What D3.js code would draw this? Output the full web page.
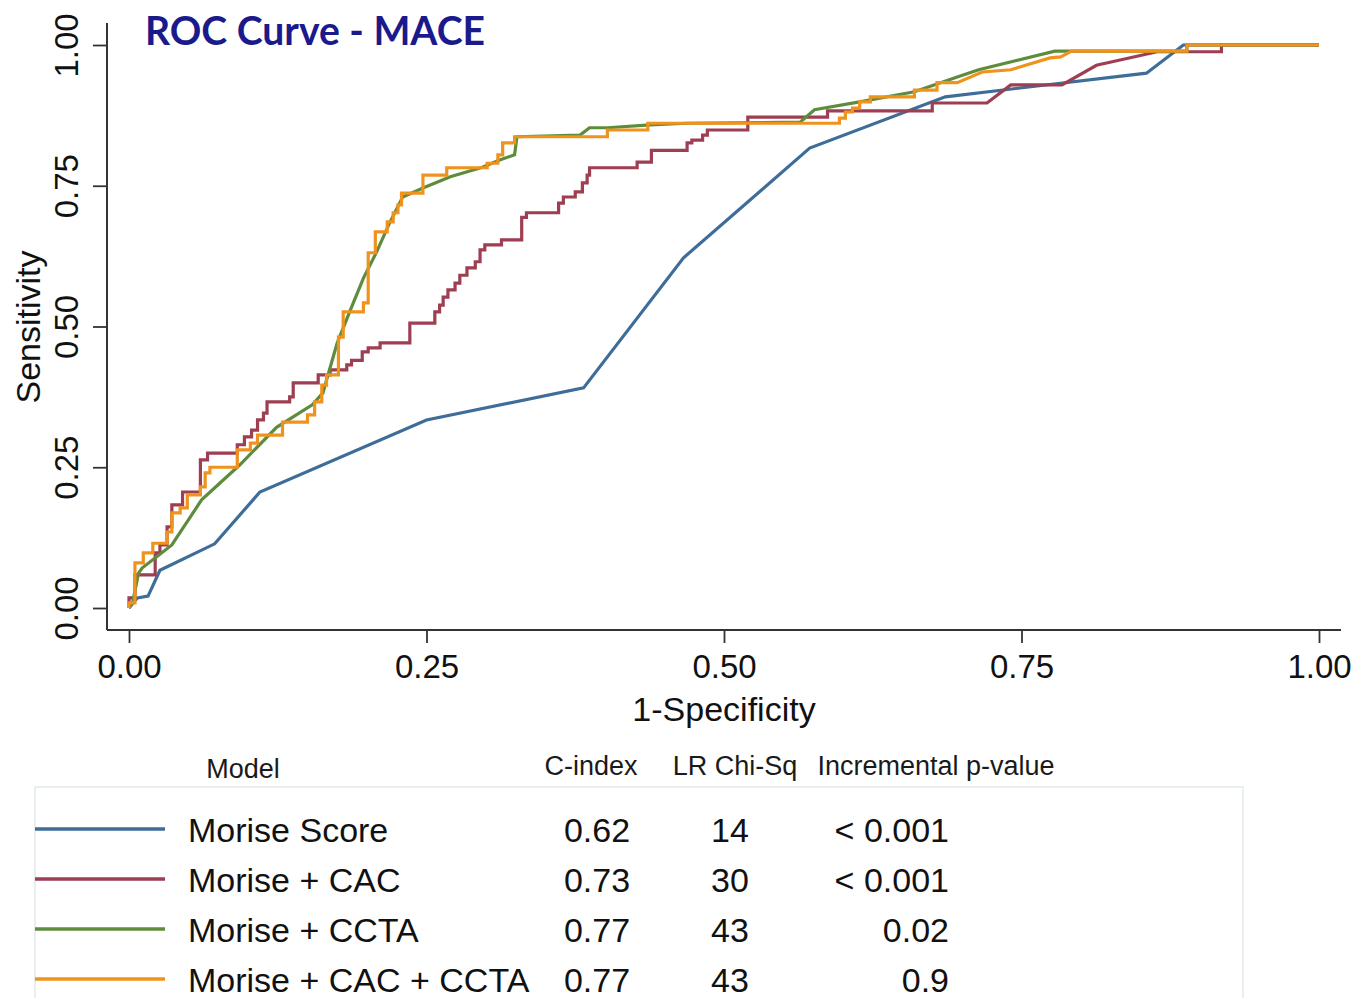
<!DOCTYPE html>
<html>
<head>
<meta charset="utf-8">
<script src="https://d3js.org/d3.v7.min.js"></script>
<style>
  html, body { margin: 0; padding: 0; background: #ffffff; }
  svg { display: block; }
  text { font-family: "Liberation Sans", Arial, Helvetica, sans-serif; fill: #111; }
</style>
</head>
<body>
<svg id="chart" width="1368" height="998"></svg>
<script>
// ---- data -------------------------------------------------------------
const modelNames = ["Morise Score", "Morise + CAC", "Morise + CCTA", "Morise + CAC + CCTA"];
const cIndex = ["0.62", "0.73", "0.77", "0.77"];
const lrChiSq = ["14", "30", "43", "43"];
const pValues = ["< 0.001", "< 0.001", "0.02", "0.9"];
const tableHeaders = ["Model", "C-index", "LR Chi-Sq", "Incremental p-value"];
const xTicks = [0, 0.25, 0.5, 0.75, 1];
const yTicks = [0, 0.25, 0.5, 0.75, 1];

// ROC points: [1-specificity, sensitivity]
const moriseScore = [
  [0, 0], [0.007, 0.018], [0.016, 0.021], [0.026, 0.067], [0.072, 0.114],
  [0.110, 0.206], [0.250, 0.334], [0.382, 0.391], [0.466, 0.622], [0.572, 0.817],
  [0.686, 0.908], [0.855, 0.950], [0.886, 1], [1, 1]
];

const moriseCac = [
  [0, 0], [0, 0.018], [0.005, 0.018], [0.005, 0.059], [0.022, 0.059], [0.022, 0.098],
  [0.026, 0.098], [0.026, 0.112], [0.032, 0.112], [0.032, 0.144], [0.036, 0.144],
  [0.036, 0.183], [0.045, 0.183], [0.045, 0.206], [0.060, 0.206], [0.060, 0.263],
  [0.066, 0.263], [0.066, 0.275], [0.091, 0.275], [0.091, 0.290], [0.097, 0.290],
  [0.097, 0.304], [0.103, 0.304], [0.103, 0.316], [0.108, 0.316], [0.108, 0.334],
  [0.113, 0.334], [0.113, 0.346], [0.116, 0.346], [0.116, 0.366], [0.135, 0.366],
  [0.135, 0.375], [0.138, 0.375], [0.138, 0.400], [0.159, 0.400], [0.159, 0.414],
  [0.169, 0.414], [0.169, 0.423], [0.183, 0.423], [0.183, 0.432], [0.187, 0.432],
  [0.187, 0.440], [0.196, 0.440], [0.196, 0.455], [0.201, 0.455], [0.201, 0.462],
  [0.211, 0.462], [0.211, 0.471], [0.236, 0.471], [0.236, 0.506], [0.257, 0.506],
  [0.257, 0.526], [0.261, 0.526], [0.261, 0.538], [0.264, 0.538], [0.264, 0.552],
  [0.268, 0.552], [0.268, 0.565], [0.274, 0.565], [0.274, 0.577], [0.278, 0.577],
  [0.278, 0.591], [0.284, 0.591], [0.284, 0.604], [0.291, 0.604], [0.291, 0.615],
  [0.295, 0.615], [0.295, 0.636], [0.299, 0.636], [0.299, 0.645], [0.313, 0.645],
  [0.313, 0.654], [0.330, 0.654], [0.330, 0.694], [0.334, 0.694], [0.334, 0.702],
  [0.361, 0.702], [0.361, 0.719], [0.365, 0.719], [0.365, 0.730], [0.375, 0.730],
  [0.375, 0.739], [0.381, 0.739], [0.381, 0.755], [0.385, 0.755], [0.385, 0.769],
  [0.387, 0.769], [0.387, 0.782], [0.427, 0.782], [0.427, 0.792], [0.439, 0.792],
  [0.439, 0.813], [0.469, 0.813], [0.469, 0.826], [0.473, 0.826], [0.473, 0.831],
  [0.482, 0.831], [0.482, 0.840], [0.486, 0.840], [0.486, 0.849], [0.520, 0.849],
  [0.520, 0.872], [0.587, 0.872], [0.587, 0.883], [0.675, 0.883], [0.675, 0.897],
  [0.721, 0.897], [0.741, 0.929], [0.784, 0.929], [0.813, 0.964], [0.864, 0.988],
  [0.918, 0.988], [0.918, 1], [1, 1]
];

const moriseCcta = [
  [0, 0], [0.003, 0.009], [0.008, 0.062], [0.011, 0.071], [0.036, 0.112],
  [0.061, 0.192], [0.093, 0.254], [0.124, 0.321], [0.154, 0.361], [0.163, 0.382],
  [0.166, 0.405], [0.175, 0.471], [0.186, 0.529], [0.197, 0.586], [0.208, 0.632],
  [0.219, 0.684], [0.230, 0.730], [0.247, 0.746], [0.270, 0.766], [0.297, 0.783],
  [0.312, 0.796], [0.324, 0.805], [0.326, 0.837], [0.379, 0.840], [0.387, 0.853],
  [0.402, 0.853], [0.438, 0.858], [0.469, 0.861], [0.564, 0.863], [0.576, 0.885],
  [0.614, 0.899], [0.660, 0.917], [0.696, 0.943], [0.714, 0.956], [0.778, 0.989],
  [0.889, 0.989], [0.889, 1], [1, 1]
];

const moriseCacCcta = [
  [0, 0], [0, 0.009], [0.005, 0.009], [0.005, 0.080], [0.012, 0.080], [0.012, 0.098],
  [0.020, 0.098], [0.020, 0.115], [0.032, 0.115], [0.032, 0.135], [0.036, 0.135],
  [0.036, 0.169], [0.043, 0.169], [0.043, 0.178], [0.049, 0.178], [0.049, 0.201],
  [0.060, 0.201], [0.060, 0.215], [0.064, 0.215], [0.064, 0.240], [0.068, 0.240],
  [0.068, 0.250], [0.091, 0.250], [0.091, 0.281], [0.102, 0.281], [0.102, 0.293],
  [0.108, 0.293], [0.108, 0.307], [0.129, 0.307], [0.129, 0.330], [0.150, 0.330],
  [0.150, 0.343], [0.156, 0.343], [0.156, 0.366], [0.162, 0.366], [0.162, 0.396],
  [0.166, 0.396], [0.166, 0.414], [0.176, 0.414], [0.176, 0.481], [0.180, 0.481],
  [0.180, 0.526], [0.197, 0.526], [0.197, 0.542], [0.201, 0.542], [0.201, 0.631],
  [0.207, 0.631], [0.207, 0.668], [0.217, 0.668], [0.217, 0.686], [0.222, 0.686],
  [0.222, 0.702], [0.226, 0.702], [0.226, 0.716], [0.229, 0.716], [0.229, 0.737],
  [0.247, 0.737], [0.247, 0.769], [0.267, 0.769], [0.267, 0.782], [0.301, 0.782],
  [0.301, 0.790], [0.310, 0.790], [0.310, 0.805], [0.314, 0.805], [0.314, 0.826],
  [0.324, 0.826], [0.324, 0.837], [0.402, 0.837], [0.402, 0.849], [0.436, 0.849],
  [0.436, 0.861], [0.597, 0.861], [0.597, 0.870], [0.602, 0.870], [0.602, 0.881],
  [0.608, 0.881], [0.608, 0.888], [0.614, 0.888], [0.614, 0.899], [0.623, 0.899],
  [0.623, 0.908], [0.660, 0.908], [0.660, 0.920], [0.679, 0.920], [0.679, 0.933],
  [0.696, 0.933], [0.717, 0.952], [0.741, 0.956], [0.774, 0.977], [0.783, 0.979],
  [0.792, 0.989], [0.889, 0.989], [0.889, 1], [1, 1]
];

const curves = [moriseScore, moriseCac, moriseCcta, moriseCacCcta];
const colors = ["#3e6d99", "#9d3e52", "#5e8c3d", "#f0931d"];

// ---- layout -----------------------------------------------------------
const svg = d3.select("#chart");
const x = d3.scaleLinear().domain([0, 1]).range([129, 1319]);
const y = d3.scaleLinear().domain([0, 1]).range([608, 45]);
const frameLeft = 107, frameBottom = 630, frameTop = 23, frameRight = 1341;

// title
svg.append("text")
  .attr("x", 145).attr("y", 45)
  .attr("textLength", 340).attr("lengthAdjust", "spacingAndGlyphs")
  .style("font-family", "Lato, 'Open Sans', sans-serif")
  .style("font-weight", 700)
  .style("font-size", "40px")
  .style("fill", "#1a1a8c")
  .text("ROC Curve - MACE");

// y axis
const yAxis = d3.axisLeft(y).tickValues(yTicks).tickFormat(d3.format(".2f"))
  .tickSize(14).tickSizeOuter(0);
const gy = svg.append("g").attr("transform", `translate(${frameLeft},0)`).call(yAxis);
gy.select(".domain").remove();
gy.selectAll(".tick line").attr("stroke", "#333").attr("stroke-width", 1.8);
gy.selectAll(".tick text")
  .attr("x", 0).attr("y", 0).attr("dy", null)
  .attr("transform", `translate(${66 - frameLeft},0) rotate(-90)`)
  .attr("text-anchor", "middle")
  .attr("dominant-baseline", "central")
  .style("font-size", "33px")
  .style("font-family", "'Liberation Sans', Arial, sans-serif")
  .style("fill", "#111");
svg.append("line")
  .attr("x1", frameLeft).attr("x2", frameLeft)
  .attr("y1", frameTop).attr("y2", frameBottom)
  .attr("stroke", "#333").attr("stroke-width", 2);

// x axis
const xAxis = d3.axisBottom(x).tickValues(xTicks).tickFormat(d3.format(".2f"))
  .tickSize(13).tickSizeOuter(0);
const gx = svg.append("g").attr("transform", `translate(0,${frameBottom})`).call(xAxis);
gx.select(".domain").remove();
gx.selectAll(".tick line").attr("stroke", "#333").attr("stroke-width", 1.8);
gx.selectAll(".tick text")
  .attr("y", 36).attr("dy", null)
  .attr("dominant-baseline", "central")
  .style("font-size", "33px")
  .style("font-family", "'Liberation Sans', Arial, sans-serif")
  .style("fill", "#111");
svg.append("line")
  .attr("x1", frameLeft).attr("x2", frameRight)
  .attr("y1", frameBottom).attr("y2", frameBottom)
  .attr("stroke", "#333").attr("stroke-width", 2);

// axis titles
svg.append("text")
  .attr("x", 724).attr("y", 709)
  .attr("text-anchor", "middle").attr("dominant-baseline", "central")
  .style("font-size", "34px")
  .text("1-Specificity");
svg.append("text")
  .attr("transform", "translate(28,327) rotate(-90)")
  .attr("text-anchor", "middle").attr("dominant-baseline", "central")
  .style("font-size", "34px")
  .text("Sensitivity");

// ROC curves
const line = d3.line().x(d => x(d[0])).y(d => y(d[1]));
svg.append("g").selectAll("path")
  .data(curves)
  .join("path")
  .attr("d", line)
  .attr("fill", "none")
  .attr("stroke", (d, i) => colors[i])
  .attr("stroke-width", 3.2)
  .attr("stroke-linejoin", "miter")
  .attr("stroke-linecap", "butt");

// ---- legend table -------------------------------------------------------
const headerX = [243, 591, 735, 936];
const headerY = [778, 775, 775, 775];
svg.append("g").selectAll("text")
  .data(tableHeaders)
  .join("text")
  .attr("x", (d, i) => headerX[i])
  .attr("y", (d, i) => headerY[i])
  .attr("text-anchor", "middle")
  .style("font-size", "27px")
  .style("fill", "#1a1a1a")
  .text(d => d);

svg.append("rect")
  .attr("x", 35).attr("y", 787)
  .attr("width", 1208).attr("height", 240)
  .attr("fill", "none")
  .attr("stroke", "#e9eef1")
  .attr("stroke-width", 2);

const rows = svg.append("g").selectAll("g")
  .data(modelNames)
  .join("g")
  .attr("transform", (d, i) => `translate(0,${829 + i * 50})`);

rows.append("line")
  .attr("x1", 35).attr("x2", 165)
  .attr("y1", 0).attr("y2", 0)
  .attr("stroke", (d, i) => colors[i])
  .attr("stroke-width", 3.4);

rows.append("text")
  .attr("x", 188).attr("y", 13)
  .style("font-size", "34px")
  .text(d => d);

rows.append("text")
  .attr("x", 597).attr("y", 13)
  .attr("text-anchor", "middle")
  .style("font-size", "34px")
  .text((d, i) => cIndex[i]);

rows.append("text")
  .attr("x", 730).attr("y", 13)
  .attr("text-anchor", "middle")
  .style("font-size", "34px")
  .text((d, i) => lrChiSq[i]);

rows.append("text")
  .attr("x", 949).attr("y", 13)
  .attr("text-anchor", "end")
  .style("font-size", "34px")
  .text((d, i) => pValues[i]);
</script>
</body>
</html>
